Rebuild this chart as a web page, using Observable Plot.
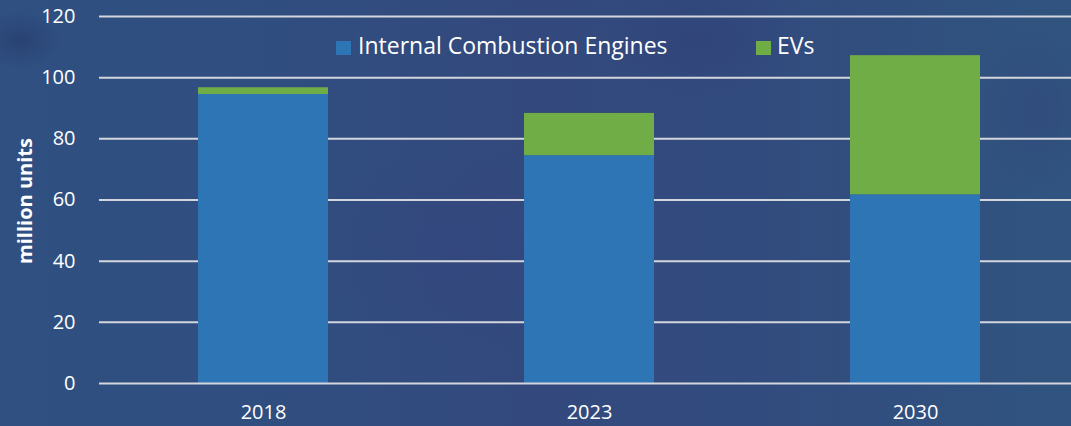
<!DOCTYPE html>
<html><head><meta charset="utf-8">
<script src="https://cdn.jsdelivr.net/npm/d3@7"></script>
<script src="https://cdn.jsdelivr.net/npm/@observablehq/plot@0.6"></script>
<style>
html,body{margin:0;padding:0;}
body{width:1071px;height:426px;overflow:hidden;background:#314e7f;}
#wrap{position:relative;width:1071px;height:426px;
background:
 radial-gradient(ellipse 60px 40px at 20px 40px, rgba(30,40,90,0.35), rgba(30,40,90,0) 70%),
 radial-gradient(ellipse 90px 120px at 1040px 110px, rgba(50,60,120,0.30), rgba(50,60,120,0) 70%),
 radial-gradient(ellipse 140px 90px at 700px 40px, rgba(45,55,115,0.30), rgba(45,55,115,0) 70%),
 radial-gradient(ellipse 200px 160px at 450px 250px, rgba(55,60,125,0.20), rgba(55,60,125,0) 70%),
 linear-gradient(90deg, #2f5081 0%, #314d80 30%, #33497d 50%, #324b7e 70%, #30547f 100%);}
#wrap svg{position:absolute;left:0;top:0;}
.leg{position:absolute;font-family:"Open Sans",sans-serif;font-size:23px;line-height:23px;color:#fff;white-space:nowrap;}
.sw{position:absolute;width:15px;height:14px;}
</style></head><body><div id="wrap"></div>
<script>
const years = ["2018", "2023", "2030"];
const iceValues = [94.5, 74.5, 61.7];
const evValues = [2.2, 13.8, 45.5];
const seriesNames = ["Internal Combustion Engines", "EVs"];
const seriesColors = ["#2e75b6", "#70ad47"];
const yTicks = [0, 20, 40, 60, 80, 100, 120];
const yLabel = "million units";

const rows = [
  ...years.map((y, i) => ({year: y, type: seriesNames[0], value: iceValues[i]})),
  ...years.map((y, i) => ({year: y, type: seriesNames[1], value: evValues[i]}))
];

const chart = Plot.plot({
  width: 1071,
  height: 426,
  marginTop: 16,
  marginBottom: 43,
  marginLeft: 99,
  marginRight: 0,
  style: {background: "transparent", color: "white", fontFamily: "'Open Sans', sans-serif", fontSize: "20px"},
  x: {domain: years, range: [99, 1079], paddingInner: 0.6024, paddingOuter: 0.2997, label: null},
  y: {domain: [0, 120], label: null},
  color: {domain: seriesNames, range: seriesColors},
  marks: [
    Plot.ruleY(yTicks.filter(d => d !== 0), {stroke: "#d3d6dd", strokeWidth: 2}),
    Plot.barY(rows, {x: "year", y: "value", fill: "type"}),
    Plot.ruleY([0], {stroke: "#d3d6dd", strokeWidth: 2}),
    Plot.axisY({ticks: yTicks, tickSize: 0, tickPadding: 24, fontSize: 20, label: null, fill: "white"}),
    Plot.axisX({tickSize: 0, tickPadding: 21, fontSize: 20, label: null, fill: "white"}),
    Plot.text([yLabel], {frameAnchor: "left", dx: -74, dy: 1, rotate: -90, fill: "white", fontSize: 20, fontWeight: "bold", textAnchor: "middle", lineAnchor: "middle"})
  ]
});
const wrap = document.getElementById("wrap");
wrap.appendChild(chart);

// legend overlay
const legendItems = [
  {name: seriesNames[0], color: seriesColors[0], sx: 336, tx: 358},
  {name: seriesNames[1], color: seriesColors[1], sx: 756, tx: 777}
];
legendItems.forEach(it => {
  const sw = document.createElement("div");
  sw.className = "sw";
  sw.style.left = it.sx + "px"; sw.style.top = "41px"; sw.style.background = it.color;
  wrap.appendChild(sw);
  const t = document.createElement("div");
  t.className = "leg";
  t.style.left = it.tx + "px"; t.style.top = "34px";
  t.textContent = it.name;
  wrap.appendChild(t);
});
</script>
</body></html>
